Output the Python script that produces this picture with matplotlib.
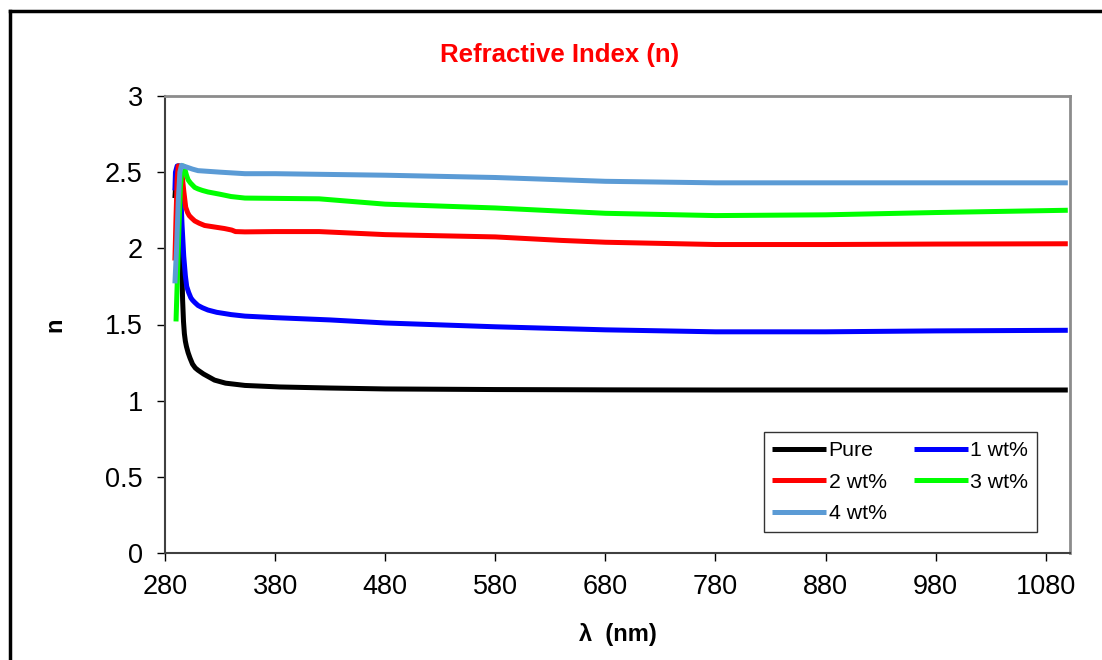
import matplotlib
matplotlib.use('Agg')
import matplotlib.pyplot as plt
from matplotlib.lines import Line2D

plt.rcParams['font.family'] = ['Liberation Sans', 'DejaVu Sans']

# wavelength (nm) / refractive index
wl_pure = [289, 290, 291.5, 293, 294, 295, 296, 296.8, 297.6, 298.5, 299.5, 301, 302.7, 305, 307.5, 310, 315, 320, 325, 335, 352.6, 384, 430, 480, 580, 680, 780, 880, 980, 1100]
n_pure = [2.33, 2.45, 2.54, 2.54, 2.3, 1.95, 1.66, 1.52, 1.44, 1.39, 1.355, 1.315, 1.28, 1.24, 1.215, 1.2, 1.175, 1.155, 1.135, 1.115, 1.1, 1.09, 1.083, 1.077, 1.073, 1.071, 1.07, 1.07, 1.07, 1.07]

wl_1 = [289, 289.5, 291, 292.5, 294, 295.5, 297, 298.5, 299.7, 301.5, 303.5, 305, 307, 310, 314, 319, 327, 340, 352.6, 380, 430, 480, 580, 680, 780, 880, 980, 1100]
n_1 = [2.38, 2.5, 2.54, 2.54, 2.4, 2.15, 1.95, 1.82, 1.75, 1.71, 1.675, 1.66, 1.645, 1.625, 1.61, 1.595, 1.58, 1.565, 1.555, 1.545, 1.53, 1.51, 1.485, 1.465, 1.452, 1.452, 1.458, 1.462]

wl_2 = [289, 290, 291, 292, 294, 295.5, 297, 298.8, 300.5, 302, 304, 307, 311, 316, 325, 334, 340.6, 344, 352.6, 380, 420, 480, 580, 640, 680, 780, 880, 980, 1100]
n_2 = [1.92, 2.2, 2.45, 2.54, 2.54, 2.48, 2.38, 2.27, 2.235, 2.215, 2.2, 2.18, 2.165, 2.15, 2.14, 2.13, 2.12, 2.11, 2.108, 2.11, 2.11, 2.09, 2.075, 2.052, 2.04, 2.025, 2.025, 2.028, 2.03]

wl_3 = [290, 291, 292.5, 294, 295.5, 297, 298, 299.5, 301, 303, 305, 307, 310, 314, 319, 330, 340, 352.6, 380, 420, 480, 580, 680, 780, 880, 980, 1100]
n_3 = [1.52, 1.75, 2.1, 2.4, 2.54, 2.54, 2.52, 2.48, 2.45, 2.43, 2.415, 2.4, 2.39, 2.38, 2.37, 2.355, 2.34, 2.33, 2.328, 2.325, 2.29, 2.265, 2.23, 2.215, 2.22, 2.235, 2.25]

wl_4 = [289, 290.5, 292, 293.5, 295, 296.5, 299, 305, 310, 330, 352.6, 380, 480, 580, 680, 780, 880, 980, 1100]
n_4 = [1.77, 2.0, 2.3, 2.5, 2.545, 2.54, 2.535, 2.52, 2.51, 2.5, 2.49, 2.49, 2.48, 2.465, 2.44, 2.43, 2.43, 2.43, 2.43]

series = [
    (wl_pure, n_pure, 'Pure', '#000000'),
    (wl_1, n_1, '1 wt%', '#0000ff'),
    (wl_2, n_2, '2 wt%', '#ff0000'),
    (wl_3, n_3, '3 wt%', '#00ff00'),
    (wl_4, n_4, '4 wt%', '#5b9bd5'),
]

fig = plt.figure(figsize=(11.02, 6.6), dpi=100)
ax = fig.add_axes([165 / 1102, 1 - 553 / 660, (1070 - 165) / 1102, (553 - 96) / 660])

handles = []
for x, y, lab, c in series:
    h, = ax.plot(x, y, color=c, lw=3.6, label=lab, solid_capstyle='butt', solid_joinstyle='round')
    handles.append(h)

ax.set_xlim(280, 1102)
ax.set_ylim(0, 3)
ax.set_xticks(range(280, 1081, 100))
ax.set_yticks([0, 0.5, 1, 1.5, 2, 2.5, 3])
ax.set_yticklabels(['0', '0.5', '1', '1.5', '2', '2.5', '3'])
ax.tick_params(direction='out', length=6, width=1, labelsize=19.5, colors='black')
ax.tick_params(axis='x', pad=9)
ax.tick_params(axis='y', pad=10)

for side in ['top', 'right']:
    ax.spines[side].set_color('#8c8c8c')
    ax.spines[side].set_linewidth(2)
for side in ['left', 'bottom']:
    ax.spines[side].set_color('#404040')
    ax.spines[side].set_linewidth(1.5)

ax.set_xlabel('λ  (nm)', fontsize=17, fontweight='bold', labelpad=17)
ax.set_ylabel('n', fontsize=17, fontweight='bold', labelpad=28)
fig.text(560 / 1102, 1 - 55 / 660, 'Refractive Index (n)', color='#ff0000',
         fontsize=18.5, fontweight='bold', ha='center', va='center')

# row-wise legend order: Pure, 1 / 2, 3 / 4
order = [0, 2, 4, 1, 3]
leg = ax.legend([handles[i] for i in order], [series[i][2] for i in order],
                ncol=2, loc='lower right', bbox_to_anchor=(0.9635, 0.046), borderaxespad=0,
                fontsize=15.3, frameon=True, fancybox=False, edgecolor='black',
                handlelength=2.55, handletextpad=0.1, columnspacing=1.3,
                labelspacing=0.6, borderpad=0.4)
leg.get_frame().set_linewidth(1)

# outer chart frame (top and left edges visible)
fig.add_artist(Line2D([10 / 1102, 1.0], [1 - 11 / 660, 1 - 11 / 660], color='black', lw=2.5,
                      transform=fig.transFigure))
fig.add_artist(Line2D([10 / 1102, 10 / 1102], [1 - 11 / 660, 0.0], color='black', lw=2.5,
                      transform=fig.transFigure))

fig.savefig('out.png', dpi=100)
